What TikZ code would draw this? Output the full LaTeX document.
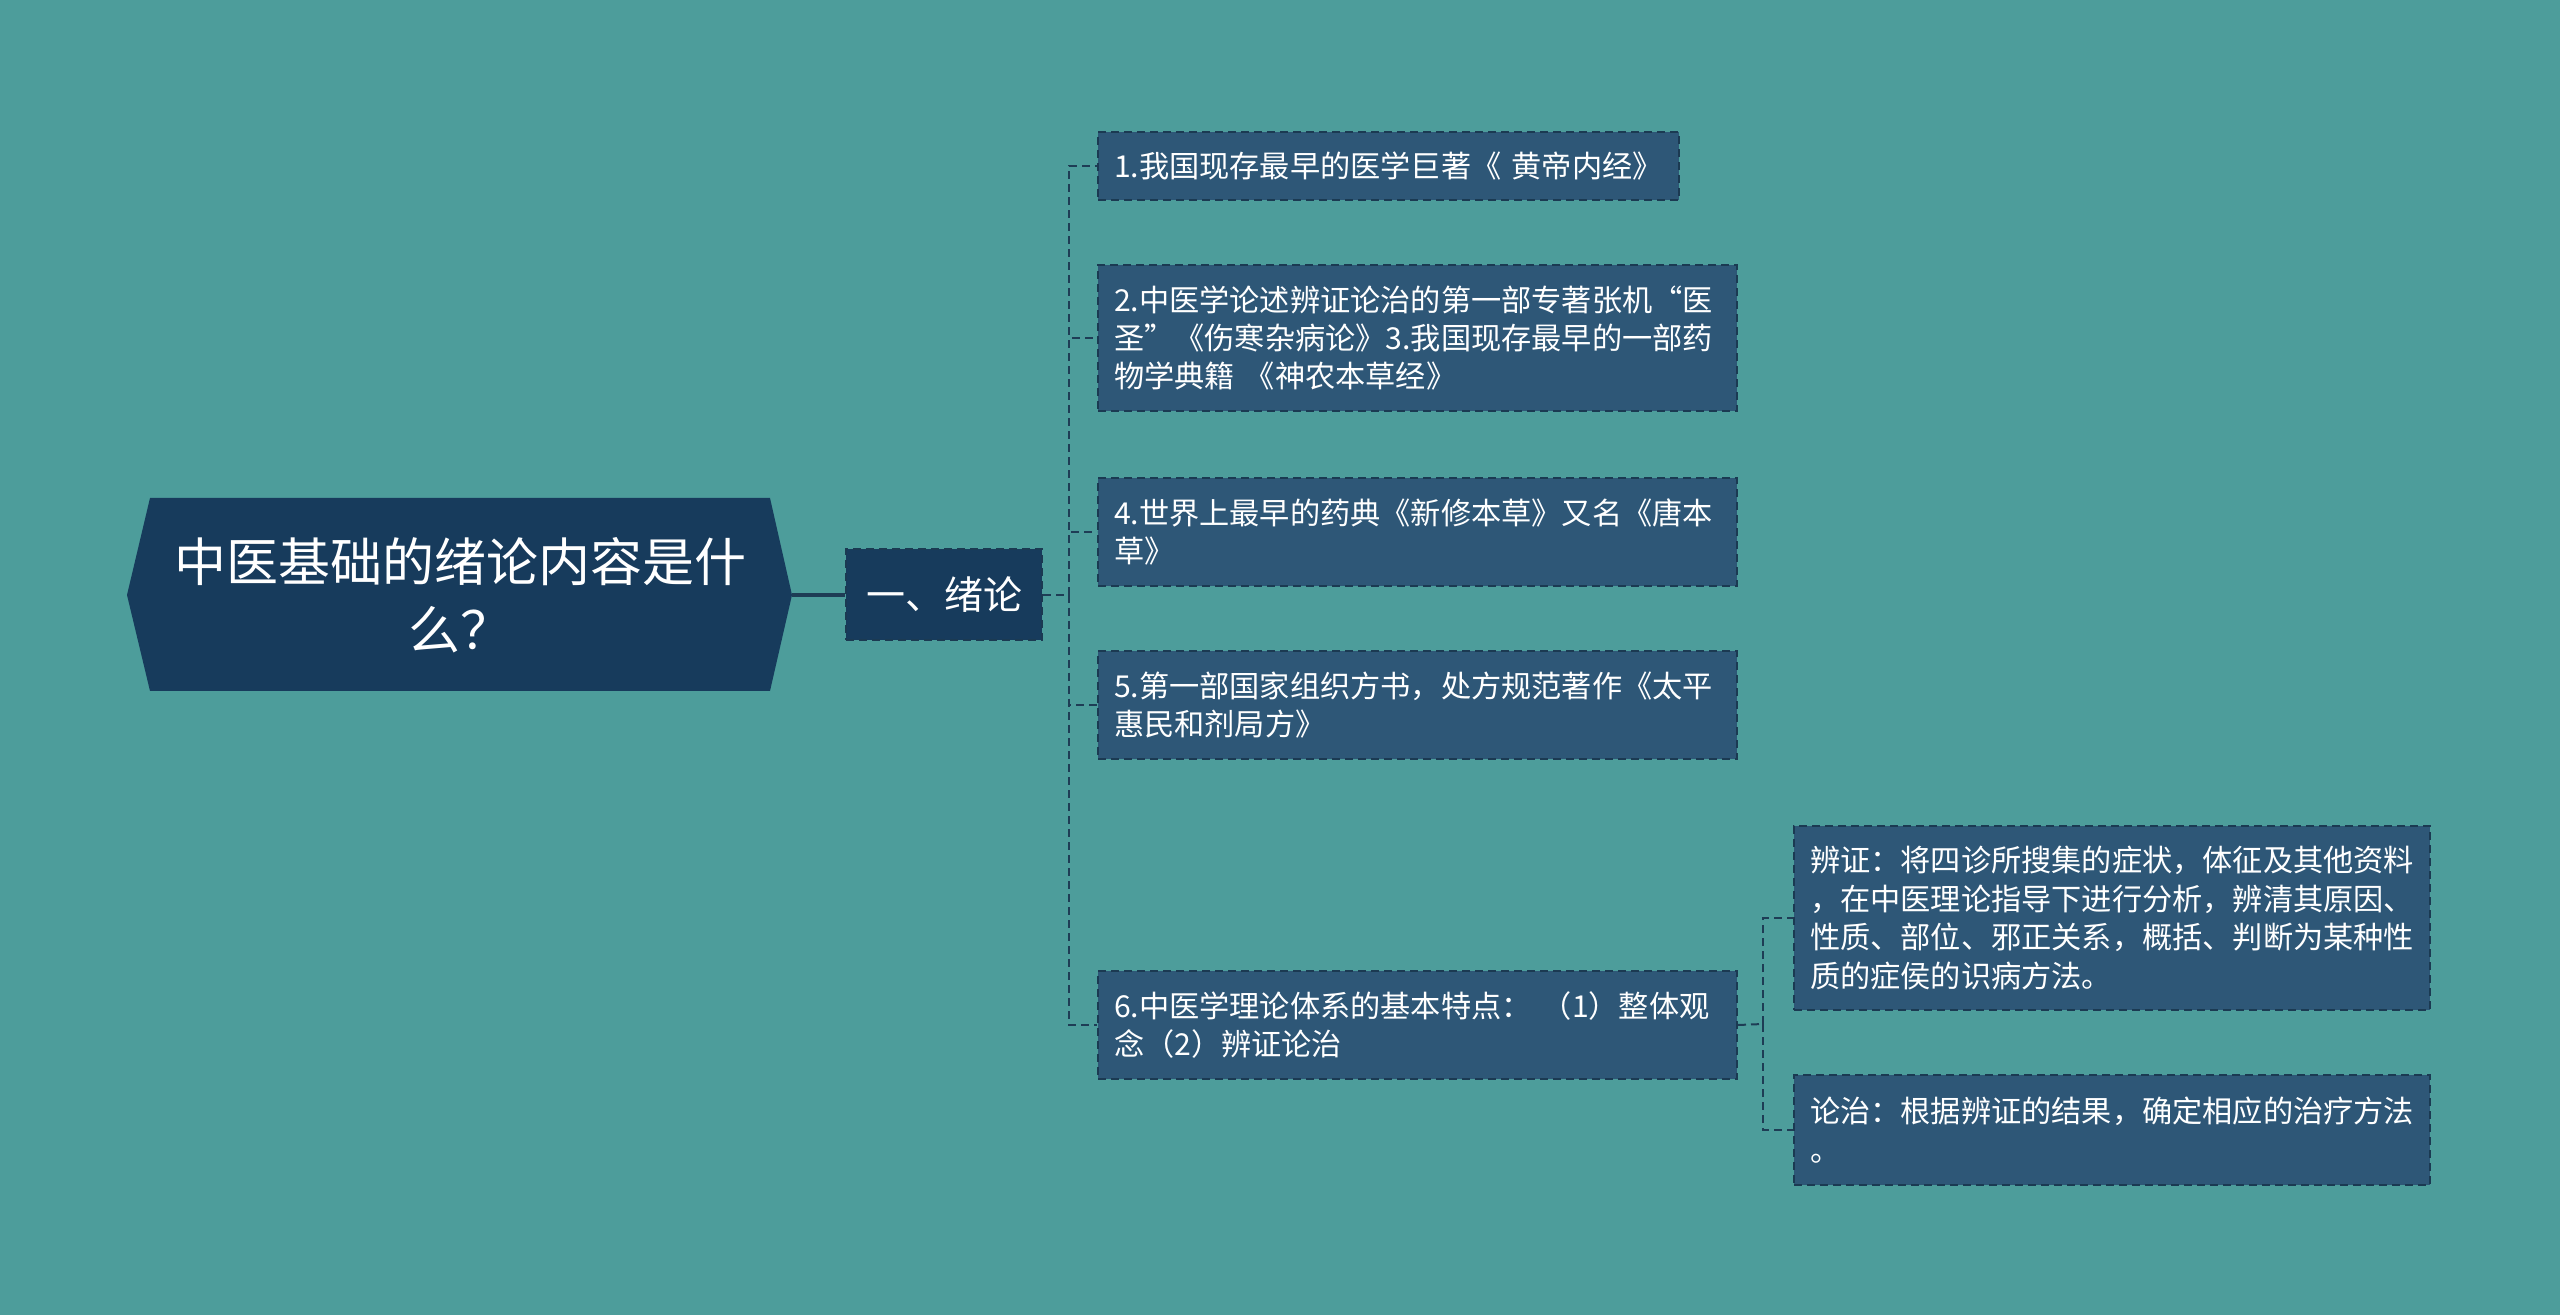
\documentclass[tikz,border=0pt]{standalone}
\usepackage{fontspec}
\setmainfont{Noto Sans CJK SC}
\definecolor{bg}{RGB}{77,157,155}
\definecolor{rootfill}{RGB}{23,59,92}
\definecolor{boxfill}{RGB}{46,87,119}
\definecolor{boxline}{RGB}{27,58,82}
\definecolor{conncol}{RGB}{30,61,85}
\begin{document}
\begin{tikzpicture}[x=0.5pt,y=-0.5pt,
  leaf/.style={draw=boxline, line width=1pt, dash pattern=on 4pt off 2.5pt,
    fill=boxfill, text=white, font=\fontsize{15.1}{19.2}\selectfont,
    align=left, anchor=north west, inner xsep=5pt, inner ysep=0pt},
  xlbox/.style={draw=boxline, line width=1pt, dash pattern=on 4pt off 2.5pt,
    fill=rootfill, text=white, font=\fontsize{19.5}{24}\selectfont,
    minimum width=98pt, minimum height=45.5pt, inner sep=0pt},
  conn/.style={draw=conncol, line width=1pt, dash pattern=on 4pt off 2.5pt},
  rootconn/.style={draw=conncol, line width=1.6pt}]
\fill[bg] (0,0) rectangle (2560,1315);
\useasboundingbox (0,0) rectangle (2560,1315);
% root hexagon
\fill[rootfill] (127,595) -- (150,498) -- (770,498) -- (792,595) -- (770,691) -- (150,691) -- cycle;
\node[text=white, font=\fontsize{26}{34}\selectfont, align=center] (root) at (460,595)
  {中医基础的绪论内容是什\\么？};
\coordinate (rootR) at (792,595);
% level 1
\node[xlbox] (xl) at (944,595) {一、绪论};
\draw[rootconn] (rootR) -- (xl.west);
% children
\node[leaf, text width=280.5pt, minimum height=34pt] (c1) at (1097,131)
  {\hspace*{3pt}1.我国现存最早的医学巨著《 黄帝内经》};
\node[leaf, text width=309.5pt, minimum height=73pt] (c2) at (1097,264)
  {\hspace*{3pt}2.中医学论述辨证论治的第一部专著张机“医\\\hspace*{3pt}圣”《伤寒杂病论》3.我国现存最早的一部药\\\hspace*{3pt}物学典籍 《神农本草经》};
\node[leaf, text width=309.5pt, minimum height=54pt] (c3) at (1097,477)
  {\hspace*{3pt}4.世界上最早的药典《新修本草》又名《唐本\\\hspace*{3pt}草》};
\node[leaf, text width=309.5pt, minimum height=54pt] (c4) at (1097,650)
  {\hspace*{3pt}5.第一部国家组织方书，处方规范著作《太平\\\hspace*{3pt}惠民和剂局方》};
\node[leaf, text width=309.5pt, minimum height=54pt] (c5) at (1097,970)
  {\hspace*{3pt}6.中医学理论体系的基本特点： （1）整体观\\\hspace*{3pt}念（2）辨证论治};
% grandchildren
\node[leaf, text width=308pt, minimum height=92pt] (ga) at (1793,825)
  {\hspace*{3pt}辨证：将四诊所搜集的症状，体征及其他资料\\\hspace*{3pt}，在中医理论指导下进行分析，辨清其原因、\\\hspace*{3pt}性质、部位、邪正关系，概括、判断为某种性\\\hspace*{3pt}质的症侯的识病方法。};
\node[leaf, text width=308pt, minimum height=55pt] (gb) at (1793,1074)
  {\hspace*{3pt}论治：根据辨证的结果，确定相应的治疗方法\\\hspace*{3pt}。};
% connectors level 1 -> children
\coordinate (b1) at (1069,595);
\draw[conn] (xl.east) -- (b1);
\draw[conn] (b1) |- (c1.west);
\draw[conn] (b1) |- (c2.west);
\draw[conn] (b1) |- (c3.west);
\draw[conn] (b1) |- (c4.west);
\draw[conn] (b1) |- (c5.west);
% connectors c5 -> grandchildren
\coordinate (b2) at (1763,1024);
\draw[conn] (c5.east) -- (b2);
\draw[conn] (b2) |- (ga.west);
\draw[conn] (b2) |- (gb.west);
\end{tikzpicture}
\end{document}
